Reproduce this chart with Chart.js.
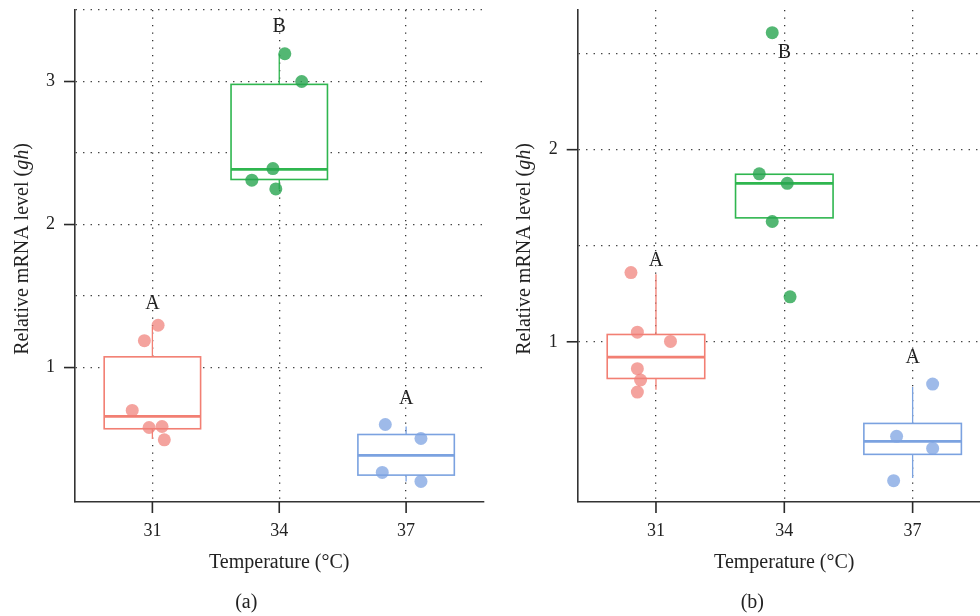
<!DOCTYPE html>
<html>
<head>
<meta charset="utf-8">
<script src="https://cdn.jsdelivr.net/npm/chart.js@4"></script>
<style>
html,body{margin:0;padding:0;background:#fff;overflow:hidden;width:980px;height:616px;}
canvas{position:absolute;top:0;}
#ca{left:0;}
#cb{left:490px;}
</style>
</head>
<body>
<canvas id="ca" width="490" height="616"></canvas>
<canvas id="cb" width="510" height="616"></canvas>
<script>
// ---------- data ----------
const categories = ['31', '34', '37'];
const yTicksA = [1, 1.5, 2, 2.5, 3, 3.5];
const yTicksB = [1, 1.5, 2, 2.5];

// Panel (a) box statistics per category
const a_q1 = [0.572, 2.315, 0.248];
const a_median = [0.658, 2.385, 0.386];
const a_q3 = [1.075, 2.980, 0.532];
const a_whiskerLow = [0.500, 2.245, 0.204];
const a_whiskerHigh = [1.286, 3.194, 0.588];
// Panel (a) observations and horizontal jitter
const a_values31 = [1.296, 1.188, 0.700, 0.581, 0.588, 0.495];
const a_jitter31 = [0.045, -0.063, -0.159, -0.026, 0.076, 0.094];
const a_values34 = [3.194, 3.000, 2.391, 2.310, 2.249];
const a_jitter34 = [0.044, 0.177, -0.050, -0.216, -0.027];
const a_values37 = [0.602, 0.504, 0.267, 0.204];
const a_jitter37 = [-0.164, 0.117, -0.188, 0.117];
const a_letters = ['A', 'B', 'A'];
const a_letterY = [1.445, 3.38, 0.779];

// Panel (b) box statistics per category
const b_q1 = [0.809, 1.645, 0.414];
const b_median = [0.920, 1.825, 0.482];
const b_q3 = [1.038, 1.872, 0.575];
const b_whiskerLow = [0.750, 1.645, 0.291];
const b_whiskerHigh = [1.352, 1.872, 0.764];
// Panel (b) observations and horizontal jitter
const b_values31 = [1.360, 1.050, 1.002, 0.860, 0.801, 0.738];
const b_jitter31 = [-0.195, -0.145, 0.113, -0.145, -0.120, -0.145];
const b_values34 = [2.609, 1.874, 1.825, 1.626, 1.234];
const b_jitter34 = [-0.094, -0.195, 0.023, -0.094, 0.045];
const b_values37 = [0.780, 0.508, 0.445, 0.277];
const b_jitter37 = [0.156, -0.125, 0.156, -0.148];
const b_letters = ['A', 'B', 'A'];
const b_letterY = [1.421, 2.506, 0.918];

// ---------- styles ----------
const boxColors = ['#F27F73', '#2FB64F', '#7BA2E0'];
const pointColors = ['rgba(240,128,120,0.72)', 'rgba(40,165,80,0.8)', 'rgba(125,163,225,0.75)'];
const FONT = "'Liberation Serif', 'DejaVu Serif', serif";
const TEXT = '#222';

function pts(values, jitter, idx) {
  return values.map((v, i) => ({ x: idx + 1 + jitter[i], y: v }));
}

function boxPlugin(stats, letters, letterY, yTitleX, caption) {
  return {
    id: 'boxes',
    beforeDatasetsDraw(chart) {
      const ctx = chart.ctx, xs = chart.scales.x, ys = chart.scales.y;
      const halfW = 0.38;
      ctx.save();
      for (let i = 0; i < 3; i++) {
        const cx = xs.getPixelForValue(i + 1);
        const l = xs.getPixelForValue(i + 1 - halfW), r = xs.getPixelForValue(i + 1 + halfW);
        const q1 = ys.getPixelForValue(stats.q1[i]), q3 = ys.getPixelForValue(stats.q3[i]);
        const md = ys.getPixelForValue(stats.median[i]);
        const wl = ys.getPixelForValue(stats.wl[i]), wh = ys.getPixelForValue(stats.wh[i]);
        ctx.strokeStyle = boxColors[i];
        ctx.lineWidth = 1.3;
        ctx.beginPath();
        ctx.moveTo(cx, q3); ctx.lineTo(cx, wh);
        ctx.moveTo(cx, q1); ctx.lineTo(cx, wl);
        ctx.stroke();
        ctx.fillStyle = '#fff';
        ctx.fillRect(l, q3, r - l, q1 - q3);
        ctx.lineWidth = 1.6;
        ctx.strokeRect(l, q3, r - l, q1 - q3);
        ctx.lineWidth = 2.8;
        ctx.beginPath();
        ctx.moveTo(l, md); ctx.lineTo(r, md);
        ctx.stroke();
      }
      ctx.restore();
    },
    afterDatasetsDraw(chart) {
      const ctx = chart.ctx, xs = chart.scales.x, ys = chart.scales.y, ca = chart.chartArea;
      ctx.save();
      ctx.fillStyle = TEXT;
      ctx.font = '20px ' + FONT;
      ctx.textAlign = 'center';
      ctx.textBaseline = 'middle';
      for (let i = 0; i < 3; i++) {
        ctx.fillText(letters[i], xs.getPixelForValue(i + 1), ys.getPixelForValue(letterY[i]));
      }
      // x title
      ctx.fillText('Temperature (°C)', (ca.left + ca.right) / 2, ca.bottom + 61);
      // caption
      ctx.fillText(caption, (ca.left + ca.right) / 2 - 33 + (caption === '(b)' ? 1 : 0), ca.bottom + 101);
      // y title with italic gh
      const p1 = 'Relative mRNA level (', p2 = 'gh', p3 = ')';
      ctx.font = '20px ' + FONT;
      const w1 = ctx.measureText(p1).width, w3 = ctx.measureText(p3).width;
      ctx.font = 'italic 20px ' + FONT;
      const w2 = ctx.measureText(p2).width;
      const total = w1 + w2 + w3;
      ctx.translate(yTitleX, (ca.top + ca.bottom) / 2 - 7);
      ctx.rotate(-Math.PI / 2);
      ctx.textAlign = 'left';
      let x0 = -total / 2;
      ctx.font = '20px ' + FONT;
      ctx.fillText(p1, x0, 0);
      ctx.font = 'italic 20px ' + FONT;
      ctx.fillText(p2, x0 + w1, 0);
      ctx.font = '20px ' + FONT;
      ctx.fillText(p3, x0 + w1 + w2, 0);
      ctx.restore();
    },
    afterDraw(chart) {
      // axis tick marks outside the plot area
      const ctx = chart.ctx, xs = chart.scales.x, ys = chart.scales.y, ca = chart.chartArea;
      ctx.save();
      ctx.fillStyle = '#2a2a2a';
      ys.ticks.forEach(t => {
        if (Number.isInteger(t.value)) {
          const py = ys.getPixelForValue(t.value);
          ctx.fillRect(ca.left - 11, py - 0.8, 11, 1.6);
        }
      });
      xs.ticks.forEach(t => {
        const px = xs.getPixelForValue(t.value);
        ctx.fillRect(px - 0.8, ca.bottom, 1.6, 11);
      });
      ctx.restore();
    }
  };
}

function makeChart(id, cfg) {
  const gridBase = {
    color: '#333',
    lineWidth: 1.3,
    tickBorderDash: [],
    tickWidth: 1.6,
    tickColor: 'rgba(0,0,0,0)'
  };
  const borderBase = { display: true, color: '#333', width: 1.6, dash: [1.3, 6.2] };
  return new Chart(document.getElementById(id), {
    type: 'scatter',
    data: {
      datasets: cfg.series.map((s, i) => ({
        label: categories[i],
        data: s,
        backgroundColor: pointColors[i],
        borderWidth: 0,
        pointRadius: 6.5,
        pointHoverRadius: 6.5
      }))
    },
    options: {
      responsive: false,
      animation: false,
      events: [],
      layout: { padding: { top: 10, right: cfg.padRight, left: 0, bottom: 0 } },
      plugins: { legend: { display: false }, tooltip: { enabled: false } },
      scales: {
        x: {
          type: 'linear',
          min: 0.39, max: 3.61,
          afterBuildTicks: s => { s.ticks = [1, 2, 3].map(v => ({ value: v })); },
          afterFit: s => { s.height = 114; s.paddingLeft = 0; s.paddingRight = 0; },
          ticks: {
            callback: v => categories[Math.round(v) - 1],
            font: { family: FONT, size: 18 },
            color: TEXT,
            padding: 8,
            maxRotation: 0,
            autoSkip: false
          },
          grid: Object.assign({}, gridBase, { tickLength: 10 }),
          border: borderBase
        },
        y: {
          type: 'linear',
          min: cfg.yMin, max: cfg.yMax,
          afterBuildTicks: s => { s.ticks = cfg.yTicks.map(v => ({ value: v })); },
          afterFit: s => { s.width = cfg.yWidth; s.paddingTop = 0; s.paddingBottom = 0; },
          ticks: {
            callback: v => Number.isInteger(v) ? String(v) : '',
            font: { family: FONT, size: 18 },
            color: TEXT,
            padding: 9,
            autoSkip: false
          },
          grid: Object.assign({}, gridBase, { tickLength: 11 }),
          border: borderBase
        }
      }
    },
    plugins: [cfg.plugin]
  });
}

makeChart('ca', {
  series: [pts(a_values31, a_jitter31, 0), pts(a_values34, a_jitter34, 1), pts(a_values37, a_jitter37, 2)],
  yMin: 0.06, yMax: 3.5, yTicks: yTicksA, yWidth: 75, padRight: 2.8,
  plugin: boxPlugin({ q1: a_q1, median: a_median, q3: a_q3, wl: a_whiskerLow, wh: a_whiskerHigh },
    a_letters, a_letterY, 23, '(a)')
});

makeChart('cb', {
  series: [pts(b_values31, b_jitter31, 0), pts(b_values34, b_jitter34, 1), pts(b_values37, b_jitter37, 2)],
  yMin: 0.166, yMax: 2.727, yTicks: yTicksB, yWidth: 87.7, padRight: 9.1,
  plugin: boxPlugin({ q1: b_q1, median: b_median, q3: b_q3, wl: b_whiskerLow, wh: b_whiskerHigh },
    b_letters, b_letterY, 35, '(b)')
});
</script>
</body>
</html>
